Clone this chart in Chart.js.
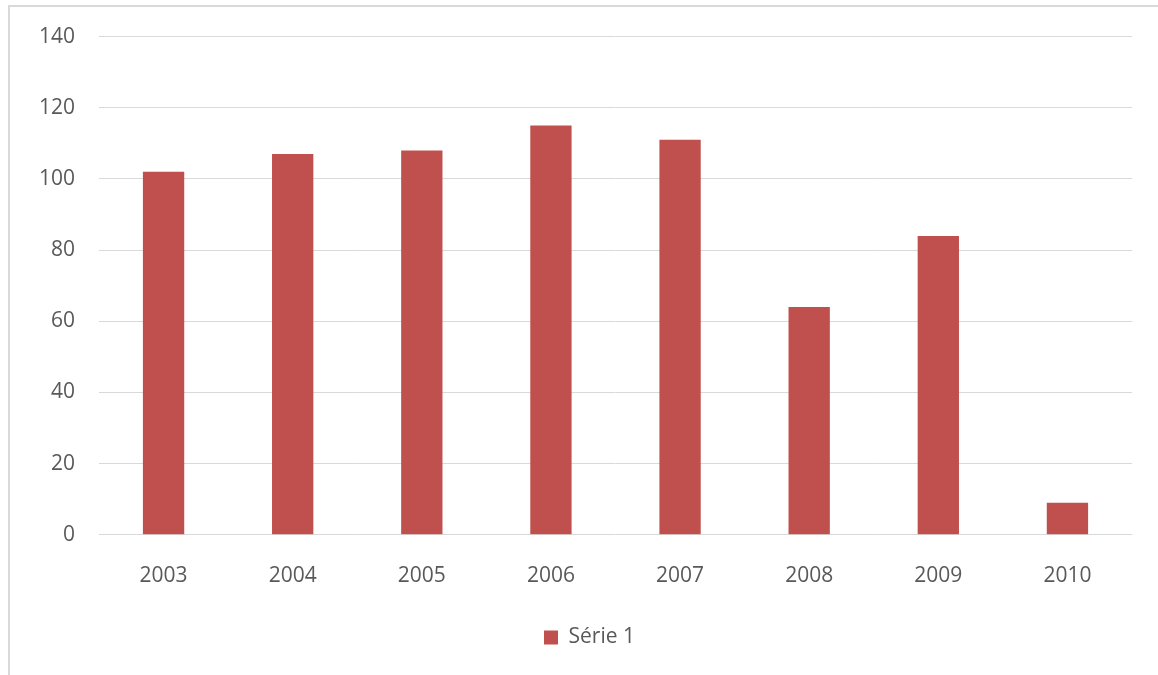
<!DOCTYPE html>
<html>
<head>
<meta charset="utf-8">
<script src="https://cdn.jsdelivr.net/npm/chart.js@4"></script>
<style>
  html, body { margin: 0; padding: 0; background: #fff; }
  .frame {
    position: absolute; left: 8px; top: 5px; width: 1150px; height: 670px;
    border-left: 2px solid #d9d9d9; border-top: 2px solid #d9d9d9;
  }
  .wrap { position: absolute; left: 0; top: 0; width: 1158px; height: 675px; }
</style>
</head>
<body>
<div class="frame"></div>
<div class="wrap"><canvas id="chart-1"></canvas></div>
<script>
// donnees
const annees = ["2003", "2004", "2005", "2006", "2007", "2008", "2009", "2010"];
const serie1 = [102, 107, 108, 115, 111, 64, 84, 9];
const yTicks = [0, 20, 40, 60, 80, 100, 120, 140];

const ctx1 = document.getElementById("chart-1").getContext("2d");
Chart.defaults.font.family = "'Open Sans', sans-serif";
Chart.defaults.font.size = 21;
Chart.defaults.color = "#595959";

// centrer la legende sur la zone du graphe (pas sur tout le canvas)
const legendeCentree = {
  id: "legendeCentree",
  afterLayout(chart) {
    if (chart.legend) chart.legend.left = 47;
  },
};

const chart1 = new Chart(ctx1, {
  type: "bar",
  data: {
    labels: annees,
    datasets: [
      {
        label: "Série 1",
        data: serie1,
        backgroundColor: "#c0504d",
        barPercentage: 0.32,
        categoryPercentage: 1,
      },
    ],
  },
  options: {
    responsive: true,
    maintainAspectRatio: false,
    animation: false,
    layout: { padding: { left: 0, top: 34, right: 26, bottom: 17 } },
    plugins: {
      tooltip: { enabled: false },
      legend: {
        position: "bottom",
        labels: { boxWidth: 14, boxHeight: 14, padding: 9, font: { size: 21 } },
      },
    },
    scales: {
      x: {
        grid: { display: false, drawTicks: false },
        border: { display: false },
        ticks: { padding: 29 },
      },
      y: {
        min: 0,
        max: 140,
        afterFit: (scale) => { scale.width = 99; },
        afterBuildTicks: (scale) => { scale.ticks = yTicks.map((v) => ({ value: v })); },
        grid: { color: "#d9d9d9", lineWidth: 1, drawTicks: false },
        border: { display: false },
        ticks: { padding: 24 },
      },
    },
  },
  plugins: [legendeCentree],
});
</script>
</body>
</html>
